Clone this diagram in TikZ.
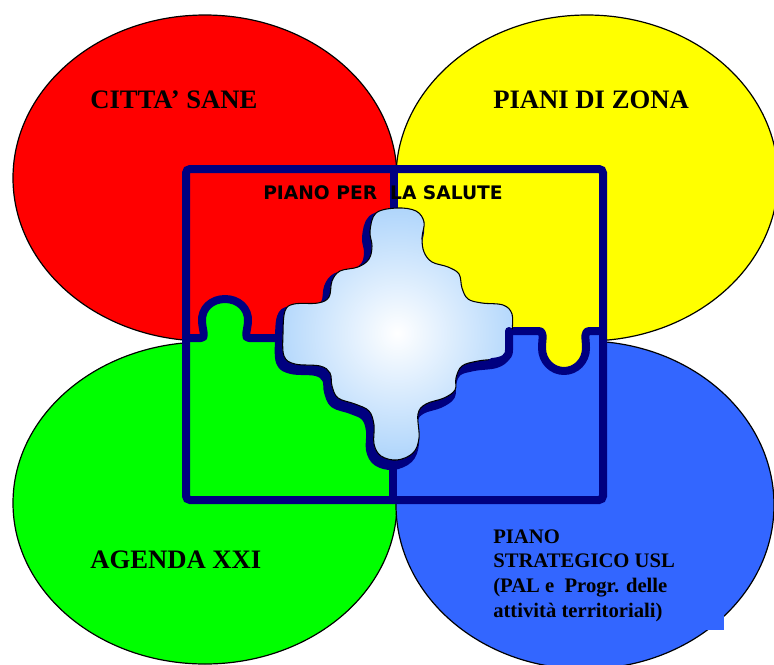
\documentclass[tikz,border=0pt]{standalone}
\usepackage{fontspec}
\setmainfont{Liberation Serif}
\newfontfamily\dejavu{DejaVu Sans}
\definecolor{cred}{RGB}{255,0,0}
\definecolor{cyel}{RGB}{255,255,0}
\definecolor{cgreen}{RGB}{0,255,0}
\definecolor{cblue}{RGB}{51,102,255}
\definecolor{cnavy}{RGB}{0,0,128}
\definecolor{cpiece}{RGB}{150,200,250}
\def\pieceP{plot[smooth cycle, tension=0.6] coordinates {
(397,208) (416,211) (424,222) (422,238) (424,252) (432,262) (448,267) (459,274)
(462,288) (468,299) (482,303) (503,305) (512,314) (512,332) (510,350) (500,358)
(478,361) (462,366) (456,378) (455,390) (444,398) (426,404) (418,414) (419,438)
(413,453) (397,460) (381,456) (374,444) (374,425) (369,411) (355,404) (338,398)
(332,386) (330,373) (320,366) (295,364) (284,356) (283,333) (285,311) (294,304)
(318,303) (329,297) (332,281) (340,271) (358,267) (369,259) (372,246) (370,231)
(376,213)}}
\begin{document}
\begin{tikzpicture}[x=0.75pt,y=-0.75pt,
  ell/.style={draw=black, line width=0.9pt},
  navyline/.style={draw=cnavy, line width=6pt, line join=round, line cap=round},
  serifbig/.style={font=\fontsize{20}{24}\selectfont\bfseries, inner sep=0pt, anchor=base west},
  serifsmall/.style={font=\fontsize{15.5}{18.4}\selectfont\bfseries, inner sep=0pt, anchor=base west, align=left},
  sanstitle/.style={font=\dejavu\bfseries\fontsize{14}{17}\selectfont, inner sep=0pt, anchor=base west}]
\useasboundingbox (0,0) rectangle (774,664);
\clip (0,0) rectangle (774,664);
% ellipses
\path[ell, fill=cred] (205,178) ellipse [x radius=192, y radius=163];
\path[ell, fill=cyel] (587,178) ellipse [x radius=191, y radius=163];
\path[ell, fill=cgreen] (205,503) ellipse [x radius=192, y radius=161];
\path[ell, fill=cblue] (585,505) ellipse [x radius=189, y radius=164];
\fill[cblue] (695,605) rectangle (724,630);
% quadrant fills
\fill[cred] (186,169) rectangle (394,338);
\fill[cyel] (394,169) rectangle (603,331);
\fill[cgreen] (186,338) rectangle (393,500);
\fill[cblue] (393,331) rectangle (603,500);
\fill[cgreen] (201,340) -- (201,338) .. controls (206,338) and (203,332) .. (202,322) .. controls (201,308) and (212,299) .. (225,299) .. controls (238,299) and (249,308) .. (248,322) .. controls (247,332) and (244,338) .. (249,338) -- (249,340) -- cycle;
\fill[cyel] (538,329) -- (538,331) .. controls (545,331) and (542,338) .. (542,348) .. controls (542,361) and (552,371) .. (564,371) .. controls (576,371) and (586,361) .. (586,348) .. controls (586,338) and (583,331) .. (590,331) -- (590,329) -- cycle;
% dividers
\draw[navyline] (186,338) -- (201,338) .. controls (206,338) and (203,332) .. (202,322) .. controls (201,308) and (212,299) .. (225,299) .. controls (238,299) and (249,308) .. (248,322) .. controls (247,332) and (244,338) .. (249,338) -- (282,338);
\draw[navyline] (508,331) -- (538,331) .. controls (545,331) and (542,338) .. (542,348) .. controls (542,361) and (552,371) .. (564,371) .. controls (576,371) and (586,361) .. (586,348) .. controls (586,338) and (583,331) .. (590,331) -- (603,331);
\draw[navyline] (394,169) -- (394,215);
\draw[navyline] (393,460) -- (393,500);
\draw[cnavy, line width=6pt, rounded corners=3pt] (186,169) rectangle (603,500);
% hole
\filldraw[navyline, fill=cnavy, shift={(-4,6)}] \pieceP;
% centre piece
\begin{scope}
\clip \pieceP;
\fill[cpiece] (250,180) rectangle (540,480);
\shade[inner color=white, outer color=cpiece] (397,333) circle [radius=165];
\end{scope}
\draw[black, line width=0.8pt] \pieceP;
\draw[navyline] (509,331) -- (509,350) .. controls (509,358) and (503,361) .. (492,362);
% texts
\node[serifbig] (citta) at (90,108) {CITTA’ SANE};
\node[serifbig] (piani) at (493,108) {PIANI DI ZONA};
\node[serifbig] (agenda) at (90,568) {AGENDA XXI};
\node[serifsmall] (usl) at (493,617) {PIANO\\STRATEGICO USL\\(PAL e~ Progr. delle\\attività territoriali)};
\node[sanstitle] (salute) at (263,199) {PIANO PER~ LA SALUTE};
\end{tikzpicture}
\end{document}
